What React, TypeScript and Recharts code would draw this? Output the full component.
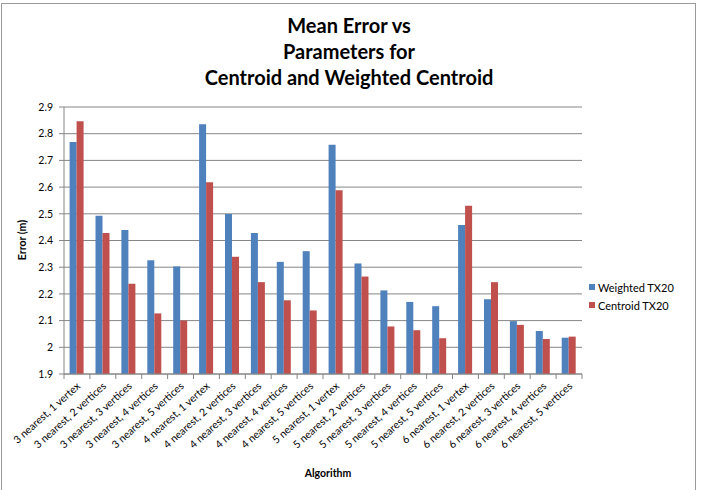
import React from 'react';
import { BarChart, Bar, XAxis, YAxis, CartesianGrid, Legend } from 'recharts';

// Algorithm configurations (x categories)
const categories = [
  '3 nearest, 1 vertex',
  '3 nearest, 2 vertices',
  '3 nearest, 3 vertices',
  '3 nearest, 4 vertices',
  '3 nearest, 5 vertices',
  '4 nearest, 1 vertex',
  '4 nearest, 2 vertices',
  '4 nearest, 3 vertices',
  '4 nearest, 4 vertices',
  '4 nearest, 5 vertices',
  '5 nearest, 1 vertex',
  '5 nearest, 2 vertices',
  '5 nearest, 3 vertices',
  '5 nearest, 4 vertices',
  '5 nearest, 5 vertices',
  '6 nearest, 1 vertex',
  '6 nearest, 2 vertices',
  '6 nearest, 3 vertices',
  '6 nearest, 4 vertices',
  '6 nearest, 5 vertices',
];

// Mean error (m) per algorithm
const weightedTX20 = [
  2.769, 2.493, 2.439, 2.326, 2.303,
  2.835, 2.499, 2.428, 2.32, 2.36,
  2.759, 2.314, 2.213, 2.17, 2.154,
  2.458, 2.18, 2.098, 2.061, 2.036,
];
const centroidTX20 = [
  2.847, 2.428, 2.238, 2.127, 2.1,
  2.618, 2.339, 2.244, 2.176, 2.138,
  2.588, 2.265, 2.078, 2.064, 2.034,
  2.53, 2.244, 2.084, 2.031, 2.04,
];

const seriesNames = ['Weighted TX20', 'Centroid TX20'];

const yTicks = [1.9, 2.0, 2.1, 2.2, 2.3, 2.4, 2.5, 2.6, 2.7, 2.8, 2.9];

const titleLines = ['Mean Error vs', 'Parameters for', 'Centroid and Weighted Centroid'];

const data = categories.map((name, i) => ({
  name,
  weighted: weightedTX20[i],
  centroid: centroidTX20[i],
}));

const FONT = 'Lato, "Open Sans", sans-serif';
const AXIS_GRAY = '#868686';
const BLUE = '#4F81BD';
const RED = '#C0504D';

const XTick = (props: any) => {
  const { x, y, payload, index, width, visibleTicksCount } = props;
  const count = visibleTicksCount || categories.length;
  const bw = (width || 518) / count;
  const axisY = y - 2;
  const left = x - bw / 2;
  return (
    <g>
      <line x1={left} y1={axisY} x2={left} y2={axisY + 5} stroke={AXIS_GRAY} />
      {index === count - 1 && (
        <line x1={x + bw / 2} y1={axisY} x2={x + bw / 2} y2={axisY + 5} stroke={AXIS_GRAY} />
      )}
      <text
        x={x + 4}
        y={axisY + 13}
        textAnchor="end"
        fontSize={10.5}
        fontFamily={FONT}
        fill="#000"
        transform={`rotate(-42, ${x + 4}, ${axisY + 13})`}
      >
        {payload.value}
      </text>
    </g>
  );
};

const LegendContent = (props: any) => {
  const items = [...(props.payload || [])].sort(
    (a: any, b: any) => seriesNames.indexOf(a.value) - seriesNames.indexOf(b.value)
  );
  return (
    <div style={{ fontFamily: FONT, fontSize: 11, color: '#000' }}>
      {items.map((p: any) => (
        <div key={p.value} style={{ display: 'flex', alignItems: 'center', height: 18 }}>
          <span
            style={{
              display: 'inline-block',
              width: 6,
              height: 6,
              background: p.color,
              marginRight: 3,
            }}
          />
          <span>{p.value}</span>
        </div>
      ))}
    </div>
  );
};

export default function App() {
  return (
    <div style={{ position: 'absolute', left: 0, top: 0, width: 701, height: 490, background: '#fff', overflow: 'hidden' }}>
      <div
        style={{
          position: 'absolute',
          left: 1,
          top: 3,
          width: 695,
          height: 490,
          border: '1px solid #9a9a9a',
          boxSizing: 'border-box',
        }}
      />
      <div style={{ position: 'absolute', left: 0, top: 0 }}>
        <BarChart
          width={701}
          height={490}
          data={data}
          margin={{ top: 107, right: 119, bottom: 16, left: 0 }}
          barCategoryGap="21.6%"
          barGap={0}
        >
          <CartesianGrid vertical={false} stroke={AXIS_GRAY} strokeWidth={1} />
          <XAxis
            dataKey="name"
            interval={0}
            height={100}
            tickSize={0}
            tickMargin={2}
            tick={<XTick />}
            axisLine={{ stroke: AXIS_GRAY }}
            tickLine={false}
          />
          <YAxis
            width={64}
            domain={[1.9, 2.9]}
            ticks={yTicks}
            interval={0}
            tickSize={5}
            tickMargin={6}
            axisLine={{ stroke: AXIS_GRAY }}
            tickLine={{ stroke: AXIS_GRAY }}
            tick={{ fontSize: 10.5, fontFamily: FONT, fill: '#000' }}
            tickFormatter={(v: number) => String(Number(v.toFixed(1)))}
          />
          <Legend
            layout="horizontal"
            verticalAlign="middle"
            align="center"
            content={<LegendContent />}
            wrapperStyle={{ position: 'absolute', left: 589, top: 278, width: 110 }}
          />
          <Bar dataKey="weighted" name={seriesNames[0]} fill={BLUE} isAnimationActive={false} />
          <Bar dataKey="centroid" name={seriesNames[1]} fill={RED} isAnimationActive={false} />
        </BarChart>
      </div>
      <svg
        width={701}
        height={490}
        style={{ position: 'absolute', left: 0, top: 0, pointerEvents: 'none' }}
      >
        {titleLines.map((t, i) => (
          <text
            key={t}
            x={349}
            y={33 + i * 26}
            textAnchor="middle"
            fontFamily={FONT}
            fontWeight="bold"
            fontSize={20}
            fill="#000"
          >
            {t}
          </text>
        ))}
        <text
          x={26}
          y={240}
          textAnchor="middle"
          fontFamily={FONT}
          fontWeight="bold"
          fontSize={10.5}
          fill="#000"
          transform="rotate(-90, 26, 240)"
        >
          Error (m)
        </text>
        <text
          x={328}
          y={477}
          textAnchor="middle"
          fontFamily={FONT}
          fontWeight="bold"
          fontSize={10.5}
          fill="#000"
        >
          Algorithm
        </text>
      </svg>
    </div>
  );
}
